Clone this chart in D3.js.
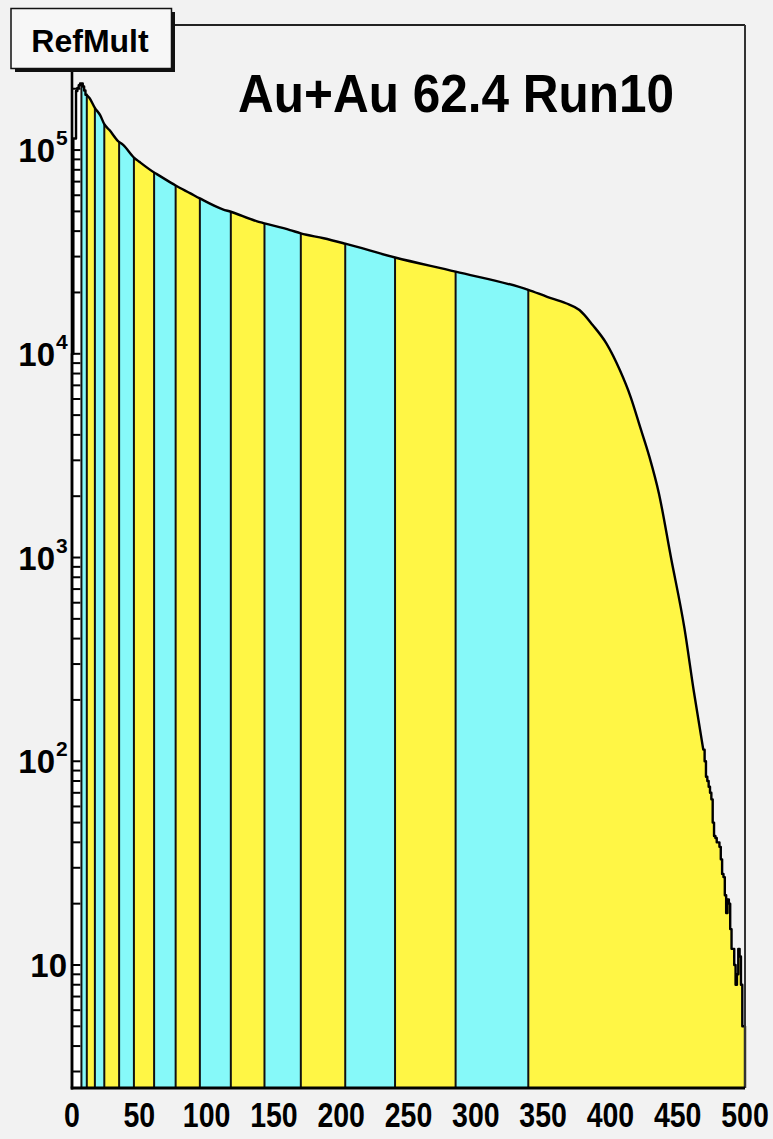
<!DOCTYPE html>
<html>
<head>
<meta charset="utf-8">
<script src="https://cdn.jsdelivr.net/npm/d3@7"></script>
<style>
  html, body { margin: 0; padding: 0; background: #f2f2f2; }
  svg { display: block; }
  text { font-family: "Liberation Sans", Arial, Helvetica, sans-serif; font-weight: bold; fill: #000; }
</style>
</head>
<body>
<svg id="chart" width="773" height="1139"></svg>
<script>
// ---- data -------------------------------------------------------------
const histTitle = "RefMult";
const runLabel = "Au+Au 62.4 Run10";

// counts in unit-width bins for refMult 0..10
const lowBinCounts = [1.0e4, 1.14e5, 1.14e5, 1.95e5, 2.02e5, 2.08e5, 2.12e5, 2.12e5, 2.05e5, 1.96e5, 1.87e5];

// smooth part of the distribution (refMult, counts)
const bulkRefMult = [11, 13, 17, 21, 24, 28, 34, 38, 46, 50, 61, 63, 77, 88, 95, 112, 118, 137, 143, 162, 170, 187, 203, 240, 285, 339, 353, 367, 377, 387, 397, 407, 415, 422, 429, 436, 445, 455, 462, 469];
const bulkCounts  = [1.86e5, 1.80e5, 1.61e5, 1.48e5, 1.34e5, 1.25e5, 1.11e5, 1.06e5, 9.19e4, 8.76e4, 7.76e4, 7.62e4, 6.70e4, 6.13e4, 5.79e4, 5.12e4, 4.98e4, 4.48e4, 4.37e4, 4.05e4, 3.90e4, 3.69e4, 3.47e4, 2.97e4, 2.53e4, 2.06e4, 1.905e4, 1.77e4, 1.64e4, 1.38e4, 1.125e4, 8.32e3, 6.15e3, 4.39e3, 3.12e3, 2.07e3, 1.0e3, 450, 220, 114];

// unit-width bins in the high-multiplicity tail, starting at refMult 469
const tailStart = 469;
const tailCounts = [114, 100, 84, 80, 75, 70, 65, 50, 43, 42, 40, 40, 38, 33, 28, 27, 22, 18, 21, 20, 15, 12, 12, 10, 8, 9, 12, 11, 8, 5, 5];

// refMult cuts separating 5% centrality classes (80% ... 5%)
const centralityCuts = [7, 11, 17, 24, 35, 46, 61, 77, 95, 118, 143, 170, 203, 240, 285, 339];
const xMax = 500;

const xTickValues = [0, 50, 100, 150, 200, 250, 300, 350, 400, 450, 500];
const yDecades = [1, 2, 3, 4, 5];

// ---- layout -----------------------------------------------------------
const W = 773, H = 1139;
const frame = { left: 72, right: 745, top: 25, bottom: 1088 };
const yel = "#fff645", cya = "#86f9f9";

const svg = d3.select("#chart");
svg.append("rect").attr("width", W).attr("height", H).attr("fill", "#f2f2f2");

const x = d3.scaleLinear().domain([0, xMax]).range([frame.left, frame.right]);
const y = d3.scaleLog().domain([2.49, 4.11e5]).range([frame.bottom, frame.top]);
const yBase = y.domain()[0];

// three pieces of the outline: low step bins, smooth bulk, tail step bins
const lowPts = [[x(0), y(yBase)]];
lowBinCounts.forEach((c, k) => { lowPts.push([x(k), y(c)], [x(k + 1), y(c)]); });
const bulkPts = bulkRefMult.map((r, i) => [x(r), y(bulkCounts[i])]);
const tailPts = [];
tailCounts.forEach((c, k) => { tailPts.push([x(tailStart + k), y(c)], [x(tailStart + k + 1), y(c)]); });
tailPts.push([x(xMax), y(yBase)]);

const linLine = d3.line();
const smoothLine = d3.line().curve(d3.curveMonotoneX);
const outlinePath = linLine(lowPts) + smoothLine(bulkPts).replace(/^M/, "L") + linLine(tailPts).replace(/^M/, "L");
const areaPath = outlinePath + "Z";

const allPts = lowPts.concat(bulkPts, tailPts);
// screen y of the outline at a given refMult
function outlineY(r) {
  const px = x(r);
  let best = null;
  for (let i = 1; i < allPts.length; i++) {
    const a = allPts[i - 1], b = allPts[i];
    if (b[0] > a[0] && px >= a[0] && px <= b[0]) {
      const v = a[1] + (b[1] - a[1]) * (px - a[0]) / (b[0] - a[0]);
      best = best === null ? v : Math.min(best, v);
    }
  }
  return best === null ? frame.bottom : best;
}

// ---- coloured centrality bands ----------------------------------------
const defs = svg.append("defs");
const edges = [0].concat(centralityCuts, [xMax]);
const bands = d3.range(edges.length - 1).map(i => ({ lo: edges[i], hi: edges[i + 1], i }));
bands.forEach(b => {
  defs.append("clipPath").attr("id", "band" + b.i).append("rect")
    .attr("x", x(b.lo)).attr("y", frame.top).attr("width", x(b.hi) - x(b.lo)).attr("height", frame.bottom - frame.top);
});
// peripheral region below the first cut is white, then yellow/cyan alternate up to 0-5%
svg.append("g").selectAll("path").data(bands).enter().append("path")
  .attr("d", areaPath)
  .attr("clip-path", d => `url(#band${d.i})`)
  .attr("fill", d => d.i === 0 ? "#ffffff" : ((bands.length - 1 - d.i) % 2 === 0 ? yel : cya));

// y-axis ticks
const yTicks = [];
for (let e = 0; e <= 5; e++) for (let m = 1; m <= 9; m++) {
  const v = m * Math.pow(10, e);
  if (v >= yBase && v <= y.domain()[1]) yTicks.push({ v, major: m === 1 });
}
svg.append("g").selectAll("line").data(yTicks).enter().append("line")
  .attr("x1", frame.left).attr("x2", x(centralityCuts[0]) - 1)
  .attr("y1", d => y(d.v)).attr("y2", d => y(d.v))
  .attr("stroke", "#000").attr("stroke-width", 2);

// band separators
svg.append("g").selectAll("line").data(centralityCuts).enter().append("line")
  .attr("x1", d => x(d)).attr("x2", d => x(d))
  .attr("y1", frame.bottom).attr("y2", d => outlineY(d))
  .attr("stroke", "#111").attr("stroke-width", 2);

// histogram outline
svg.append("path").attr("d", outlinePath).attr("fill", "none")
  .attr("stroke", "#000").attr("stroke-width", 2.4).attr("stroke-linejoin", "round");

// ---- frame ------------------------------------------------------------
svg.append("line").attr("x1", frame.left).attr("x2", frame.right).attr("y1", frame.top).attr("y2", frame.top)
  .attr("stroke", "#222").attr("stroke-width", 2);
svg.append("line").attr("x1", frame.right).attr("x2", frame.right).attr("y1", frame.top).attr("y2", frame.bottom)
  .attr("stroke", "#333").attr("stroke-width", 2);
svg.append("line").attr("x1", frame.left).attr("x2", frame.left).attr("y1", frame.top).attr("y2", frame.bottom + 1.5)
  .attr("stroke", "#000").attr("stroke-width", 2.6);
svg.append("line").attr("x1", frame.left - 1.3).attr("x2", frame.right).attr("y1", frame.bottom).attr("y2", frame.bottom)
  .attr("stroke", "#000").attr("stroke-width", 3);

// ---- tick labels ------------------------------------------------------
svg.append("g").selectAll("text").data(xTickValues).enter().append("text")
  .attr("transform", d => `translate(${x(d)},1127) scale(1,1.22)`)
  .attr("text-anchor", "middle")
  .attr("font-size", 28.5).text(d => d);

const yl = svg.append("g").selectAll("g").data(yDecades).enter().append("g");
yl.each(function (e) {
  const t = d3.select(this);
  const yy = y(Math.pow(10, e));
  if (e === 1) {
    t.append("text").attr("x", 67).attr("y", yy + 12).attr("text-anchor", "end").attr("font-size", 33).text("10");
  } else {
    t.append("text").attr("x", 55).attr("y", yy + 12).attr("text-anchor", "end").attr("font-size", 33).text("10");
    t.append("text").attr("x", 56).attr("y", yy - 5).attr("font-size", 21).text(e);
  }
});

// ---- title and histogram name box -------------------------------------
svg.append("text").attr("transform", "translate(456,112) scale(1,1.08)").attr("text-anchor", "middle")
  .attr("font-size", 49.5).text(runLabel);

svg.append("rect").attr("x", 15).attr("y", 12).attr("width", 160).attr("height", 60).attr("fill", "#111");
svg.append("rect").attr("x", 11).attr("y", 8.5).attr("width", 160.5).attr("height", 60)
  .attr("fill", "#f7f7f7").attr("stroke", "#111").attr("stroke-width", 1.5);
svg.append("text").attr("x", 90).attr("y", 51.5).attr("text-anchor", "middle")
  .attr("font-size", 32).text(histTitle);
</script>
</body>
</html>
